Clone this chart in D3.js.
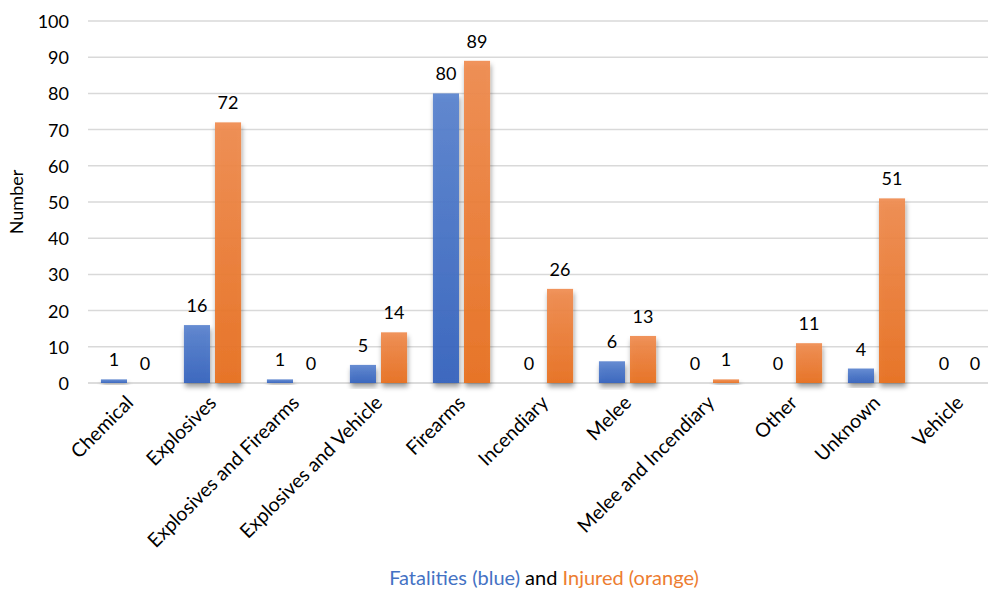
<!DOCTYPE html>
<html>
<head>
<meta charset="utf-8">
<script src="https://cdn.jsdelivr.net/npm/d3@7/dist/d3.min.js"></script>
<style>
  html, body { margin: 0; padding: 0; background: #fff; }
  svg { display: block; font-family: Lato, "Open Sans", sans-serif; }
</style>
</head>
<body>
<svg id="chart" width="988" height="593"></svg>
<script>
// Attack weapon types and casualty counts
const categories = ["Chemical", "Explosives", "Explosives and Firearms", "Explosives and Vehicle",
  "Firearms", "Incendiary", "Melee", "Melee and Incendiary", "Other", "Unknown", "Vehicle"];
const fatalities = [1, 16, 1, 5, 80, 0, 6, 0, 0, 4, 0];
const injured    = [0, 72, 0, 14, 89, 26, 13, 1, 11, 51, 0];
const yTicks = [0, 10, 20, 30, 40, 50, 60, 70, 80, 90, 100];
const seriesNames = ["fatalities", "injured"];

const svg = d3.select("#chart");
const plotLeft = 88, plotRight = 1001, plotTop = 21, plotBottom = 383;

const x0 = d3.scaleBand().domain(categories).range([plotLeft, plotRight]).padding(0);
const x1 = d3.scaleBand().domain(seriesNames).range([0, x0.bandwidth()])
  .paddingInner(0.161).paddingOuter(0.416);
const y = d3.scaleLinear().domain([0, 100]).range([plotBottom, plotTop]);

// gradients and shadow
const defs = svg.append("defs");
const grads = {
  fatalities: ["#5b84cf", "#3563be"],
  injured: ["#f08c50", "#e8701f"]
};
Object.entries(grads).forEach(([k, [c1, c2]]) => {
  const g = defs.append("linearGradient").attr("id", "g-" + k)
    .attr("x1", 0).attr("y1", 0).attr("x2", 0).attr("y2", 1);
  g.append("stop").attr("offset", "0%").attr("stop-color", c1);
  g.append("stop").attr("offset", "100%").attr("stop-color", c2);
});
const f = defs.append("filter").attr("id", "shadow")
  .attr("x", "-30%").attr("y", "-10%").attr("width", "160%").attr("height", "140%");
f.append("feDropShadow").attr("dx", 1).attr("dy", 4).attr("stdDeviation", 2.4)
  .attr("flood-color", "#000").attr("flood-opacity", 0.4);

// gridlines
svg.append("g").selectAll("line").data(yTicks).join("line")
  .attr("x1", plotLeft).attr("x2", plotRight)
  .attr("y1", d => y(d)).attr("y2", d => y(d))
  .attr("stroke", d => d === 0 ? "#d0d0d0" : "#d9d9d9").attr("stroke-width", 1.5);

// y axis labels
const yAxis = d3.axisLeft(y).tickValues(yTicks).tickSize(0).tickPadding(0);
const yg = svg.append("g").attr("transform", `translate(${plotLeft - 19},0)`).call(yAxis);
yg.select(".domain").remove();
yg.selectAll("text").attr("font-size", 18).attr("fill", "#000")
  .attr("font-family", "Lato, sans-serif").attr("dy", "0.36em");

svg.append("text").attr("transform", `translate(23,${(plotTop + plotBottom) / 2}) rotate(-90)`)
  .attr("text-anchor", "middle").attr("font-size", 18).text("Number");

// bars
const rows = categories.map((c, i) => ({ c, vals: [
  { key: "fatalities", v: fatalities[i] },
  { key: "injured", v: injured[i] }
]}));

const groups = svg.append("g").selectAll("g").data(rows).join("g")
  .attr("transform", d => `translate(${x0(d.c)},0)`);

groups.selectAll("rect").data(d => d.vals.filter(e => e.v > 0)).join("rect")
  .attr("x", d => x1(d.key)).attr("width", x1.bandwidth())
  .attr("y", d => y(d.v)).attr("height", d => Math.max(1.5, y(0) - y(d.v)))
  .attr("fill", d => `url(#g-${d.key})`).attr("fill-opacity", 0.93)
  .attr("filter", "url(#shadow)");

groups.selectAll("text").data(d => d.vals).join("text")
  .attr("x", d => x1(d.key) + x1.bandwidth() / 2)
  .attr("y", d => y(d.v) - 13)
  .attr("text-anchor", "middle").attr("font-size", 18).attr("fill", "#000")
  .text(d => d.v);

// category labels
svg.append("g").selectAll("text").data(categories).join("text")
  .attr("transform", d => `translate(${x0(d) + x0.bandwidth() / 2 + 5},${plotBottom + 21}) rotate(-45)`)
  .attr("text-anchor", "end").attr("font-size", 19.5).attr("fill", "#000")
  .text(d => d);

// legend caption
const cap = svg.append("text").attr("x", 544).attr("y", 585)
  .attr("text-anchor", "middle").attr("font-size", 20);
cap.append("tspan").attr("fill", "#4472c4").text("Fatalities (blue)");
cap.append("tspan").attr("fill", "#000").text(" and ");
cap.append("tspan").attr("fill", "#ed7d31").text("Injured (orange)");
</script>
</body>
</html>
